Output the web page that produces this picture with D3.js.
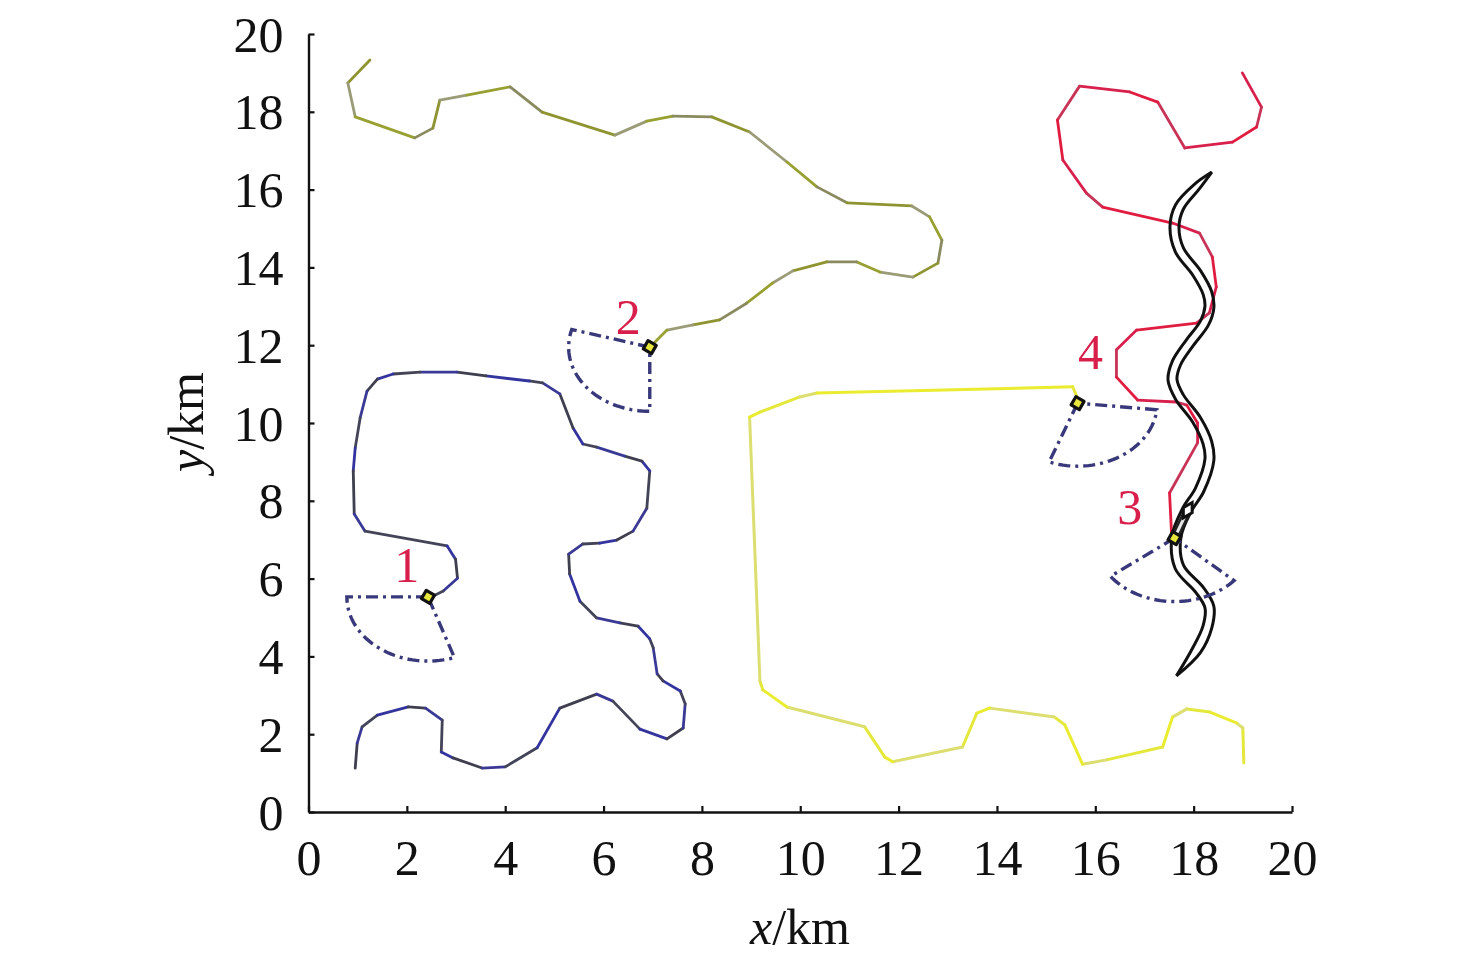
<!DOCTYPE html>
<html><head><meta charset="utf-8">
<script src="https://cdn.jsdelivr.net/npm/d3@7"></script>
<style>body{margin:0;background:#fff}</style>
</head><body>
<svg id="c" width="1476" height="962"></svg>
<script>
// ---------- data (km) ----------
const xTicks = [0,2,4,6,8,10,12,14,16,18,20];
const yTicks = [0,2,4,6,8,10,12,14,16,18,20];

const path1X = [0.95,0.99,1.09,1.40,2.03,2.38,2.72,2.70,2.94,3.53,4.00,4.65,5.11,5.86,6.19,6.74,7.29,7.62,7.66,7.56,7.21,7.09,7.01,6.94,6.70,6.33,5.86,5.52,5.31,5.29,5.58,5.92,6.27,6.60,6.88,6.94,6.78,6.43,5.86,5.58,5.38,5.11,4.76,4.49,3.61,3.02,2.27,1.72,1.40,1.19,1.05,0.95,0.91,0.93,1.15,2.82,2.99,3.03,2.74,2.46];
const path1Y = [1.13,1.77,2.19,2.49,2.70,2.67,2.36,1.54,1.39,1.13,1.16,1.65,2.67,3.03,2.85,2.13,1.88,2.16,2.78,3.11,3.37,3.55,4.22,4.45,4.78,4.86,4.99,5.42,6.12,6.63,6.89,6.91,6.99,7.22,7.81,8.77,9.02,9.15,9.38,9.46,9.87,10.75,11.03,11.08,11.21,11.31,11.31,11.26,11.13,10.82,10.13,9.36,8.77,7.66,7.22,6.84,6.50,6.01,5.68,5.50];

const path2X = [1.25,0.80,0.95,2.16,2.53,2.67,3.22,4.10,4.75,6.23,6.88,7.41,8.20,8.97,9.73,10.34,10.95,12.27,12.63,12.88,12.80,12.29,11.62,11.15,10.54,9.85,9.44,8.91,8.36,7.82,7.29,6.94];
const path2Y = [19.33,18.74,17.87,17.33,17.58,18.30,18.43,18.64,17.99,17.40,17.76,17.89,17.87,17.48,16.71,16.07,15.66,15.58,15.30,14.70,14.11,13.75,13.88,14.14,14.14,13.91,13.60,13.08,12.65,12.52,12.39,11.95];

const path3X = [18.99,19.38,19.28,18.79,17.82,17.27,16.70,15.68,15.23,15.34,15.82,16.15,17.57,18.12,18.38,18.46,18.32,18.06,16.84,16.43,16.43,16.86,17.65,17.86,18.08,18.08,17.51,17.55,17.61];
const path3Y = [19.00,18.12,17.61,17.22,17.07,18.25,18.51,18.66,17.79,16.76,15.91,15.55,15.14,14.88,14.27,13.50,12.83,12.57,12.39,11.88,11.18,10.59,10.54,10.46,10.00,9.49,8.20,7.17,7.04];

const path4X = [19.02,19.00,18.87,18.33,17.86,17.57,17.37,16.23,15.74,15.38,15.17,13.85,13.59,13.30,11.88,11.72,11.31,9.73,9.24,9.18,8.97,9.18,9.99,10.34,15.54,15.64];
const path4Y = [1.26,2.16,2.29,2.57,2.65,2.44,1.67,1.34,1.23,2.24,2.44,2.67,2.54,1.67,1.29,1.41,2.19,2.70,3.14,3.37,10.15,10.28,10.67,10.77,10.93,10.64];

const roadX = [17.65,18.06,18.28,18.32,18.12,17.71,17.65,17.86,18.12,18.32,18.28,18.06,17.71,17.57,17.65,17.92,18.22,18.32,18.28,18.06,17.71,17.61,17.71,18.06,18.37];
const roadY = [3.50,4.16,4.76,5.27,5.71,6.30,7.07,7.76,8.28,9.05,9.49,10.08,10.67,11.11,11.54,12.06,12.57,12.98,13.34,13.86,14.45,15.04,15.55,16.07,16.45];

const uavLabels = ["1","2","3","4"];
const uavX = [2.43,6.94,17.61,15.64];
const uavY = [5.53,11.95,7.04,10.51];
const sectorStart = [180,164,217,249];   // degrees
const sectorEnd   = [289,270,318,354];
const sectorR = [1.65,1.65,1.63,1.62];
const labelX = [2.0,6.5,16.7,15.9];
const labelY = [5.9,12.3,7.4,11.4];

const targetX = [17.88];
const targetY = [7.76];

// ---------- drawing ----------
const svg = d3.select("#c");
const x = d3.scaleLinear().domain([0,20]).range([308.5,1292]);
const y = d3.scaleLinear().domain([0,20]).range([812,34]);
const serif = "Liberation Serif";

function drawPath(xs, ys, colors, width){
  const pts = xs.map((v,i)=>[x(v), y(ys[i])]);
  const g = svg.append("g");
  for(let i=0;i<pts.length-1;i++){
    g.append("line").attr("x1",pts[i][0]).attr("y1",pts[i][1])
     .attr("x2",pts[i+1][0]).attr("y2",pts[i+1][1])
     .attr("stroke",colors[i%colors.length]).attr("stroke-width",width)
     .attr("stroke-linecap","round");
  }
}
drawPath(path1X,path1Y,["#3f3f4f","#3a3a96","#444458","#34349e"],2.8);
drawPath(path2X,path2Y,["#8e9430","#9b9b78","#97a030","#8a8a60"],2.8);
drawPath(path3X,path3Y,["#d8204c","#c83458","#e01c40"],2.8);
drawPath(path4X,path4Y,["#e4e83a","#dcde70","#eaec30"],3);

// road (double line, tapered ends)
(function(){
  const c = roadX.map((v,i)=>[x(v), y(roadY[i])]);
  const cum=[0];
  for(let i=1;i<c.length;i++) cum.push(cum[i-1]+Math.hypot(c[i][0]-c[i-1][0],c[i][1]-c[i-1][1]));
  const L = cum[cum.length-1];
  const left=[], right=[];
  c.forEach((p,i)=>{
    const a=c[Math.max(0,i-1)], b=c[Math.min(c.length-1,i+1)];
    let dx=b[0]-a[0], dy=b[1]-a[1]; const n=Math.hypot(dx,dy); dx/=n; dy/=n;
    const w = 4.5*Math.min(1, Math.min(cum[i], L-cum[i])/28);
    left.push([p[0]-dy*w, p[1]+dx*w]); right.push([p[0]+dy*w, p[1]-dx*w]);
  });
  const line = d3.line().curve(d3.curveCatmullRom.alpha(0.5));
  [left,right].forEach(pp=>svg.append("path").attr("d",line(pp)).attr("fill","none")
    .attr("stroke","#111").attr("stroke-width",3));
})();

// trail from UAV3 to target
svg.append("line").attr("x1",x(uavX[2])).attr("y1",y(uavY[2])).attr("x2",x(targetX[0])).attr("y2",y(targetY[0]))
  .attr("stroke","#222").attr("stroke-width",8);
svg.append("line").attr("x1",x(uavX[2])).attr("y1",y(uavY[2])).attr("x2",x(targetX[0])).attr("y2",y(targetY[0]))
  .attr("stroke","#e8e8e8").attr("stroke-width",3);
svg.append("path").attr("d",d3.symbol(d3.symbolDiamond,90)())
  .attr("transform",`translate(${x(targetX[0])},${y(targetY[0])}) rotate(30)`)
  .attr("fill","#fff").attr("stroke","#111").attr("stroke-width",3);

// sectors
uavX.forEach((ux,i)=>{
  const a0=sectorStart[i]*Math.PI/180, a1=sectorEnd[i]*Math.PI/180;
  const pts=[[x(ux),y(uavY[i])]];
  d3.range(0,1.0001,1/40).forEach(t=>{
    const a=a0+(a1-a0)*t;
    pts.push([x(ux+sectorR[i]*Math.cos(a)), y(uavY[i]+sectorR[i]*Math.sin(a))]);
  });
  pts.push(pts[0]);
  svg.append("path").attr("d",d3.line()(pts)).attr("fill","none")
    .attr("stroke","#38387a").attr("stroke-width",3.4)
    .attr("stroke-dasharray","12,5,3,5");
});

// UAV markers
uavX.forEach((ux,i)=>{
  svg.append("path").attr("d",d3.symbol(d3.symbolSquare,90)())
    .attr("transform",`translate(${x(ux)},${y(uavY[i])}) rotate(30)`)
    .attr("fill","#e6e63c").attr("stroke","#111").attr("stroke-width",3.2)
    .attr("stroke-linejoin","round");
  svg.append("text").attr("x",x(labelX[i])).attr("y",y(labelY[i]))
    .attr("text-anchor","middle").attr("font-family",serif).attr("font-size",50)
    .attr("fill","#d81e4a").text(uavLabels[i]);
});

// axes
const ax = svg.append("g").attr("transform","translate(0,812)")
  .call(d3.axisBottom(x).tickValues(xTicks).tickSizeInner(-6).tickSizeOuter(0).tickPadding(27).tickFormat(d3.format("d")));
const ay = svg.append("g").attr("transform","translate(308.5,0)")
  .call(d3.axisLeft(y).tickValues(yTicks).tickSizeInner(-6).tickSizeOuter(0).tickPadding(25).tickFormat(d3.format("d")));
[ax,ay].forEach(g=>{
  g.select(".domain").attr("stroke","#111").attr("stroke-width",2.4);
  g.selectAll(".tick line").attr("stroke","#111").attr("stroke-width",2.2);
  g.selectAll(".tick text").attr("font-family",serif).attr("font-size",50).attr("fill","#111");
});
ax.selectAll(".tick text").attr("dy","0.71em");
ay.selectAll(".tick text").attr("dy","0.34em");

// axis titles
svg.append("text").attr("x",800).attr("y",944).attr("text-anchor","middle")
  .attr("font-family",serif).attr("font-size",50).attr("fill","#111")
  .html('<tspan font-style="italic">x</tspan>/km');
svg.append("text").attr("transform","translate(203,422) rotate(-90)").attr("text-anchor","middle")
  .attr("font-family",serif).attr("font-size",50).attr("fill","#111")
  .html('<tspan font-style="italic">y</tspan>/km');
</script>
</body></html>
